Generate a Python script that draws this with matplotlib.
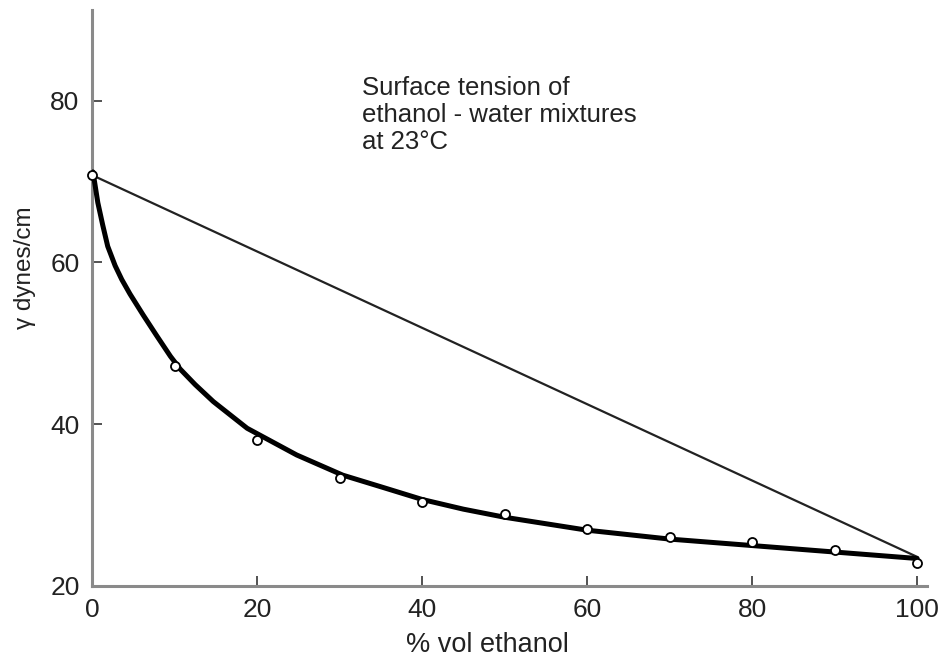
import numpy as np
import matplotlib
matplotlib.use('Agg')
import matplotlib.pyplot as plt

# measured points (open circles)
pct_ethanol = [0, 10, 20, 30, 40, 50, 60, 70, 80, 90, 100]
gamma = [70.8, 47.2, 38.1, 33.4, 30.4, 28.9, 27.1, 26.0, 25.4, 24.5, 22.8]

# smooth hand-drawn curve
curve_x = [0.1, 0.3, 0.7, 1.3, 1.9, 2.8, 3.6, 4.6, 6.2, 7.8, 9.5, 10.7, 12.5, 14.7,
           18.8, 24.8, 30.4, 34.9, 40, 45, 50, 60, 70, 80, 90, 100]
curve_y = [71.2, 70.0, 67.4, 64.6, 62.0, 59.6, 57.9, 56.1, 53.5, 51.0, 48.4, 46.8, 44.9,
           42.8, 39.5, 36.2, 33.7, 32.3, 30.7, 29.5, 28.5, 26.9, 25.8, 25.0, 24.2, 23.4]

# straight (ideal mixing) line
ideal_x = [0, 100]
ideal_y = [70.8, 23.6]

xticks = [0, 20, 40, 60, 80, 100]
yticks = [20, 40, 60, 80]

plt.rcParams['font.family'] = ['Liberation Sans', 'DejaVu Sans']

fig = plt.figure(figsize=(9.43, 6.65), dpi=100)
ax = fig.add_axes([0.0976, 0.1188, 0.8855, 0.866])

ax.plot(ideal_x, ideal_y, color='#222222', lw=1.6, zorder=2)
ax.plot(curve_x, curve_y, color='black', lw=3.6, solid_capstyle='round',
        solid_joinstyle='round', zorder=3)
ax.plot(pct_ethanol, gamma, 'o', ms=6.5, mfc='white', mec='black', mew=1.3, zorder=4,
        clip_on=False)

ax.set_xlim(0, 101.2)
ax.set_ylim(20, 91.2)
ax.set_xticks(xticks)
ax.set_yticks(yticks)

for s in ['top', 'right']:
    ax.spines[s].set_visible(False)
for s in ['left', 'bottom']:
    ax.spines[s].set_color('#8a8a8a')
    ax.spines[s].set_linewidth(2.2)

ax.tick_params(direction='in', length=7.5, width=1.3, color='#444444',
               labelsize=19, labelcolor='#222222')
ax.tick_params(axis='x', pad=9)
ax.tick_params(axis='y', pad=9)

ax.set_xlabel('% vol ethanol', fontsize=19.5, color='#222222', va='center')
ax.xaxis.set_label_coords(0.473, -0.102)
ax.set_ylabel('γ dynes/cm', fontsize=17.5, color='#222222', va='center')
ax.yaxis.set_label_coords(-0.080, 0.552)

ax.text(0.323, 0.885, 'Surface tension of\nethanol - water mixtures\nat 23°C',
        transform=ax.transAxes, fontsize=18.5, color='#222222', va='top', ha='left',
        linespacing=1.15)

fig.savefig('out.png', dpi=100)
